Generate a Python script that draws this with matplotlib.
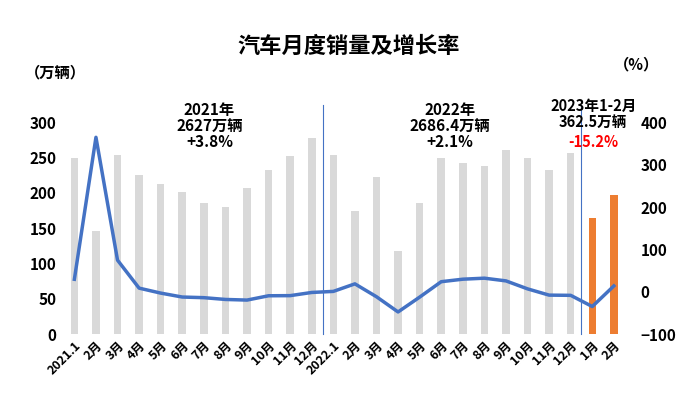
import matplotlib
matplotlib.use("Agg")
import matplotlib.pyplot as plt
import numpy as np

plt.rcParams['font.family'] = ['Noto Sans CJK SC', 'DejaVu Sans']

labels = ['2021.1','2月','3月','4月','5月','6月','7月','8月','9月','10月','11月','12月',
          '2022.1','2月','3月','4月','5月','6月','7月','8月','9月','10月','11月','12月',
          '1月','2月']
sales = [250,146,253,225,213,201,186,180,207,233,252,278,
         253,174,223,118,186,250,242,238,261,250,232,256,
         164,197]
growth = [29.5,364.6,74.6,8.6,-3.1,-12.4,-13.9,-18.1,-19.6,-9.4,-9.1,-1.6,
          0.9,18.7,-11.7,-47.6,-12.6,23.8,29.7,32.1,25.7,6.9,-7.9,-8.4,
          -34.8,13.8]

fig = plt.figure(figsize=(6.98,4.09), dpi=100)
ax = fig.add_axes([0.088,0.183,0.81,0.518])
x = np.arange(len(sales))
colors = ['#d9d9d9']*24 + ['#ed7d31']*2
ax.bar(x, sales, width=0.35, color=colors)
ax.set_ylim(0,300)
ax.set_yticks(range(0,301,50))
ax.set_xlim(-0.6, len(sales)-0.4)
ax.set_xticks(x)
ax.set_xticklabels(labels, rotation=45, ha='right', rotation_mode='anchor', fontsize=9, fontweight='bold')
ax.tick_params(axis='y', labelsize=11, length=0)
ax.tick_params(axis='x', length=0)
for t in ax.get_yticklabels(): t.set_fontweight('bold')
for s in ax.spines.values(): s.set_visible(False)

ax2 = ax.twinx()
ax2.plot(x, growth, color='#4472c4', lw=2.5)
ax2.set_ylim(-100,400)
ax2.set_yticks(range(-100,401,100))
ax2.tick_params(axis='y', labelsize=11, length=0, pad=10)
for t in ax2.get_yticklabels(): t.set_fontweight('bold')
for s in ax2.spines.values(): s.set_visible(False)

for xv in (11.5, 23.5):
    ax.axvline(xv, ymin=0, ymax=1.08, color='#4472c4', lw=0.8, clip_on=False)

fig.text(0.5, 0.87, '汽车月度销量及增长率', ha='center', fontsize=16, fontweight='bold')
fig.text(0.035, 0.81, '（万辆）', fontsize=11, fontweight='bold')
fig.text(0.88, 0.83, '（%）', fontsize=11, fontweight='bold')
fig.text(0.3, 0.64, '2021年\n2627万辆\n+3.8%', ha='center', fontsize=11, fontweight='bold', linespacing=1.0)
fig.text(0.645, 0.64, '2022年\n2686.4万辆\n+2.1%', ha='center', fontsize=11, fontweight='bold', linespacing=1.0)
fig.text(0.85, 0.69, '2023年1-2月\n362.5万辆', ha='center', fontsize=10.5, fontweight='bold', linespacing=1.0)
fig.text(0.85, 0.64, '-15.2%', ha='center', fontsize=10.5, fontweight='bold', color='red')
fig.savefig('out.png', dpi=100)
